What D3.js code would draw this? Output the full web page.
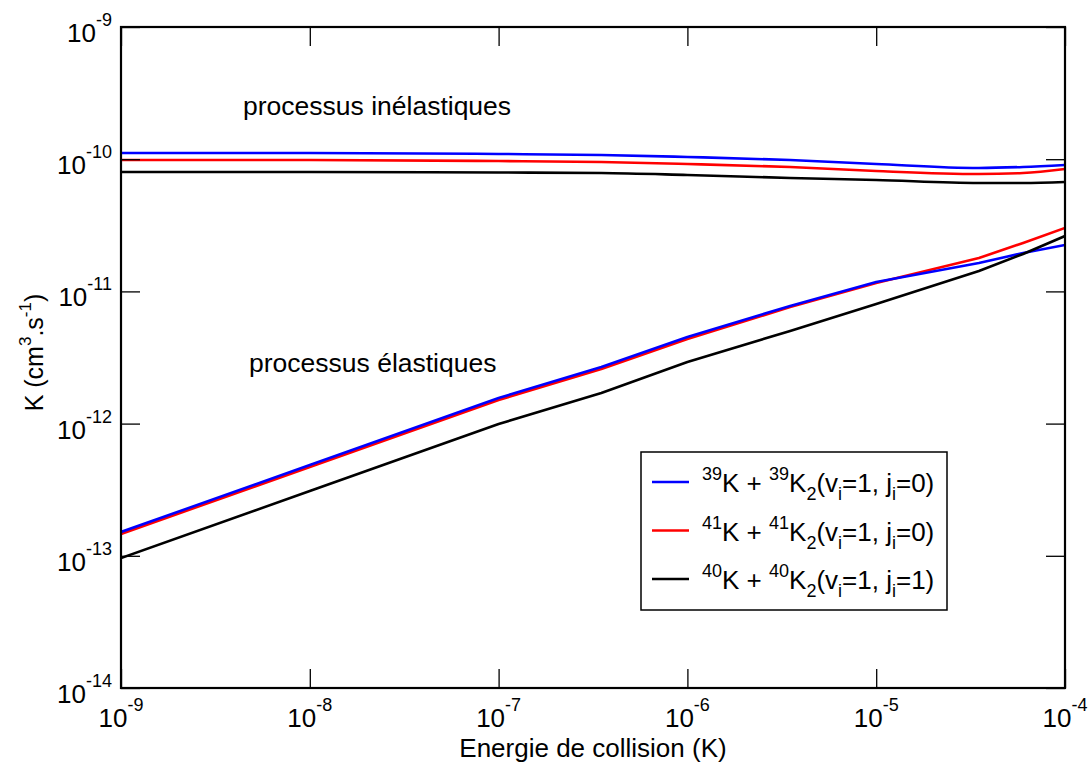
<!DOCTYPE html>
<html>
<head>
<meta charset="utf-8">
<script src="https://cdn.jsdelivr.net/npm/d3@7"></script>
<style>
  html, body { margin: 0; padding: 0; background: #fff; }
  svg { display: block; font-family: "Liberation Sans", Arial, sans-serif; }
</style>
</head>
<body>
<svg id="chart" width="1092" height="763"></svg>
<script>
// Collision energies (K)
const energies = [1e-9, 1e-8, 1e-7, 3.5e-7, 1e-6, 3.5e-6, 1e-5, 3.5e-5, 6e-5, 1e-4];

// Inelastic rate coefficients (cm^3 s^-1)
const inel39 = [1.114e-10, 1.114e-10, 1.095e-10, 1.076e-10, 1.039e-10, 9.86e-11, 9.20e-11, 8.58e-11, 8.73e-11, 9.04e-11];
const inel41 = [9.86e-11, 9.86e-11, 9.69e-11, 9.52e-11, 9.20e-11, 8.73e-11, 8.14e-11, 7.73e-11, 7.87e-11, 8.43e-11];
const inel40 = [8.00e-11, 8.00e-11, 7.93e-11, 7.87e-11, 7.60e-11, 7.21e-11, 6.96e-11, 6.61e-11, 6.61e-11, 6.73e-11];

// Elastic rate coefficients (cm^3 s^-1)
const el39 = [1.514e-13, 4.86e-13, 1.563e-12, 2.68e-12, 4.52e-12, 7.76e-12, 1.178e-11, 1.64e-11, 1.952e-11, 2.245e-11];
const el41 = [1.462e-13, 4.70e-13, 1.509e-12, 2.59e-12, 4.36e-12, 7.62e-12, 1.158e-11, 1.789e-11, 2.323e-11, 3.018e-11];
const el40 = [9.62e-14, 3.09e-13, 9.93e-13, 1.703e-12, 2.92e-12, 5.02e-12, 8.03e-12, 1.427e-11, 1.919e-11, 2.624e-11];

// Tick exponents
const xTickExps = [-9, -8, -7, -6, -5, -4];
const yTickExps = [-14, -13, -12, -11, -10, -9];

// Legend entries
const legendMass = ["39", "41", "40"];
const legendJ = ["0", "0", "1"];
const seriesColors = ["#0000ff", "#ff0000", "#000000"];

const xLabel = "Energie de collision (K)";
const annInel = "processus inélastiques";
const annEl = "processus élastiques";

const svg = d3.select("#chart");
const L = 121, R = 1065, T = 27, B = 688;

const x = d3.scaleLog().domain([1e-9, 1e-4]).range([L, R]);
const y = d3.scaleLog().domain([1e-14, 1e-9]).range([B, T]);

const lineSmooth = d3.line().x(d => x(d[0])).y(d => y(d[1])).curve(d3.curveMonotoneX);
const lineLin = d3.line().x(d => x(d[0])).y(d => y(d[1])).curve(d3.curveLinear);

const series = [
  { v: inel41, c: seriesColors[1], f: lineSmooth },
  { v: inel39, c: seriesColors[0], f: lineSmooth },
  { v: inel40, c: seriesColors[2], f: lineSmooth },
  { v: el41, c: seriesColors[1], f: lineLin },
  { v: el39, c: seriesColors[0], f: lineLin },
  { v: el40, c: seriesColors[2], f: lineLin }
];
svg.append("clipPath").attr("id", "clip")
  .append("rect").attr("x", L).attr("y", T).attr("width", R - L).attr("height", B - T);
svg.append("g").attr("clip-path", "url(#clip)")
  .selectAll("path").data(series).join("path")
  .attr("d", s => s.f(energies.map((e, i) => [e, s.v[i]])))
  .attr("fill", "none").attr("stroke", s => s.c).attr("stroke-width", 2.6)
  .attr("stroke-linejoin", "round");

// axes with inward ticks, all four sides
const tickLen = 19;
const xTicks = xTickExps.map(e => Math.pow(10, e));
const yTicks = yTickExps.map(e => Math.pow(10, e));

function styleAxis(g) {
  g.select(".domain").remove();
  g.selectAll(".tick line").attr("stroke", "#000").attr("stroke-width", 1.3);
  g.selectAll(".tick text").remove();
}
svg.append("g").attr("transform", `translate(0,${B})`)
  .call(d3.axisTop(x).tickValues(xTicks).tickSize(tickLen)).call(styleAxis);
svg.append("g").attr("transform", `translate(0,${T})`)
  .call(d3.axisBottom(x).tickValues(xTicks).tickSize(tickLen)).call(styleAxis);
svg.append("g").attr("transform", `translate(${L},0)`)
  .call(d3.axisRight(y).tickValues(yTicks).tickSize(tickLen)).call(styleAxis);
svg.append("g").attr("transform", `translate(${R},0)`)
  .call(d3.axisLeft(y).tickValues(yTicks).tickSize(tickLen)).call(styleAxis);

// frame
svg.append("rect").attr("x", L).attr("y", T).attr("width", R - L).attr("height", B - T)
  .attr("fill", "none").attr("stroke", "#000").attr("stroke-width", 2.2);

// tick labels
function powLabel(sel, exp) {
  sel.append("tspan").text("10");
  sel.append("tspan").attr("dy", -16).attr("font-size", 18).text(String(exp));
}
xTickExps.forEach((e, i) => {
  const t = svg.append("text")
    .attr("x", x(xTicks[i])).attr("y", B + 39)
    .attr("text-anchor", "middle").attr("font-size", 26).attr("fill", "#000");
  powLabel(t, e);
});
yTickExps.forEach((e, i) => {
  const t = svg.append("text")
    .attr("x", 112).attr("y", y(yTicks[i]) + 15)
    .attr("text-anchor", "end").attr("font-size", 26).attr("fill", "#000");
  powLabel(t, e);
});

// axis titles
svg.append("text").attr("x", (L + R) / 2).attr("y", 757)
  .attr("text-anchor", "middle").attr("font-size", 26).text(xLabel);

const yt = svg.append("text")
  .attr("transform", `translate(43,${(T + B) / 2 - 5}) rotate(-90)`)
  .attr("text-anchor", "middle").attr("font-size", 25);
yt.append("tspan").text("K (cm");
yt.append("tspan").attr("dy", -12).attr("font-size", 17).text("3");
yt.append("tspan").attr("dy", 12).text(".s");
yt.append("tspan").attr("dy", -12).attr("font-size", 17).text("-1");
yt.append("tspan").attr("dy", 12).text(")");

// annotations
svg.append("text").attr("x", 243).attr("y", 115).attr("font-size", 26.5).text(annInel);
svg.append("text").attr("x", 249).attr("y", 372).attr("font-size", 26.5).text(annEl);

// legend
const lg = svg.append("g");
lg.append("rect").attr("x", 641).attr("y", 452).attr("width", 306).attr("height", 158)
  .attr("fill", "#fff").attr("stroke", "#000").attr("stroke-width", 1.5);
const rowY = [482, 530.5, 579];
legendMass.forEach((m, i) => {
  lg.append("line").attr("x1", 652).attr("x2", 689).attr("y1", rowY[i]).attr("y2", rowY[i])
    .attr("stroke", seriesColors[i]).attr("stroke-width", 2.6);
  const t = lg.append("text").attr("x", 702).attr("y", rowY[i] + 10).attr("font-size", 26);
  t.append("tspan").attr("dy", -12).attr("font-size", 18).text(m);
  t.append("tspan").attr("dy", 12).text("K + ");
  t.append("tspan").attr("dy", -12).attr("font-size", 18).text(m);
  t.append("tspan").attr("dy", 12).text("K");
  t.append("tspan").attr("dy", 8).attr("font-size", 18).text("2");
  t.append("tspan").attr("dy", -8).text("(v");
  t.append("tspan").attr("dy", 8).attr("font-size", 18).text("i");
  t.append("tspan").attr("dy", -8).text("=1, j");
  t.append("tspan").attr("dy", 8).attr("font-size", 18).text("i");
  t.append("tspan").attr("dy", -8).text("=" + legendJ[i] + ")");
});
</script>
</body>
</html>
